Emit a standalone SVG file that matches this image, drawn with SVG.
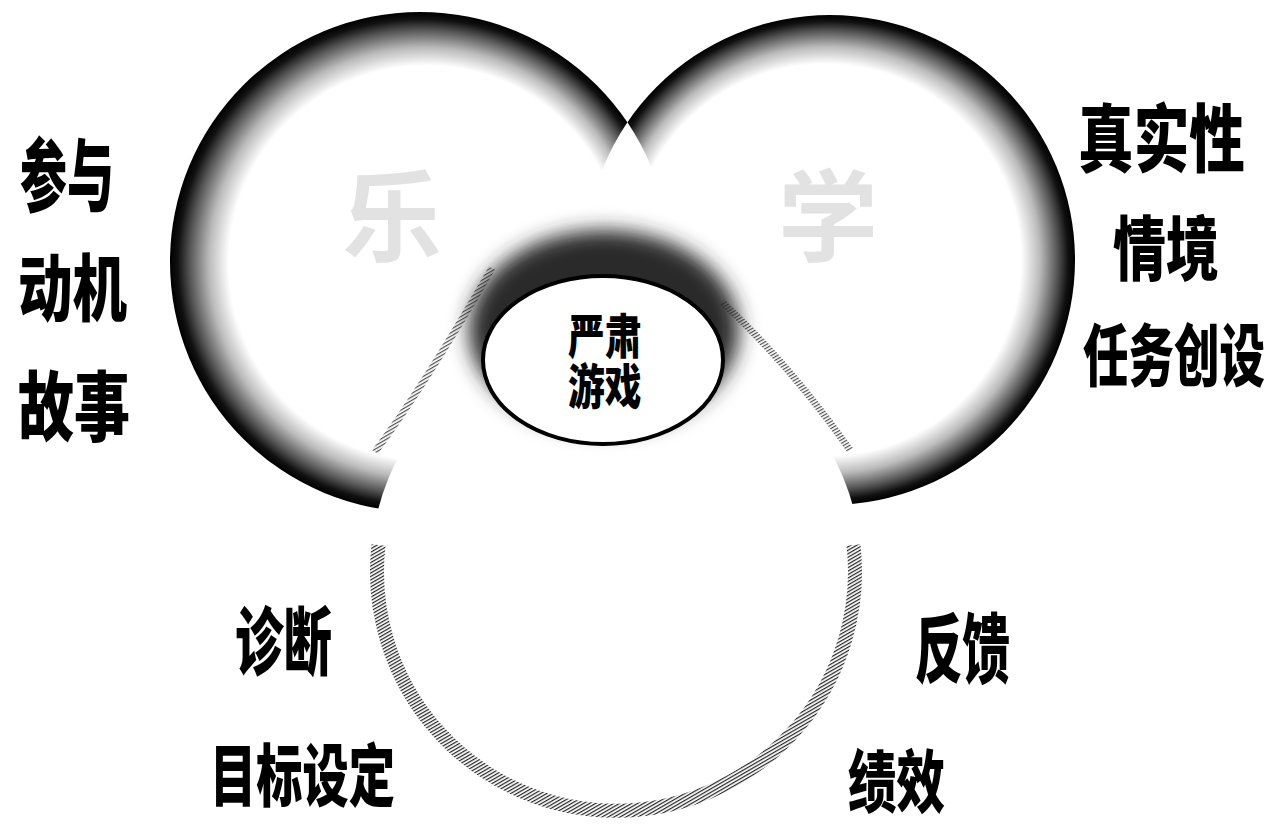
<svg xmlns="http://www.w3.org/2000/svg" width="1270" height="829" viewBox="0 0 1270 829">
<style>
.lbl{font-family:"Noto Sans CJK SC","Noto Sans CJK TC",sans-serif;font-weight:900;fill:#000;dominant-baseline:central}
.faint{font-family:"Noto Sans CJK SC",sans-serif;font-weight:700;fill:#e2e2e2;dominant-baseline:central;text-anchor:middle}
</style>
<defs>
<radialGradient id="rimL" cx="0.5" cy="0.5" r="0.5" fx="0.56" fy="0.51">
<stop offset="0" stop-color="#fff"/>
<stop offset="0.79" stop-color="#fff"/>
<stop offset="0.86" stop-color="#bbb"/>
<stop offset="0.93" stop-color="#555"/>
<stop offset="0.972" stop-color="#111"/>
<stop offset="1" stop-color="#000"/>
</radialGradient>
<radialGradient id="rimR" cx="0.5" cy="0.5" r="0.5" fx="0.45" fy="0.5">
<stop offset="0" stop-color="#fff"/>
<stop offset="0.8" stop-color="#fff"/>
<stop offset="0.87" stop-color="#bbb"/>
<stop offset="0.935" stop-color="#555"/>
<stop offset="0.975" stop-color="#111"/>
<stop offset="1" stop-color="#000"/>
</radialGradient>
<pattern id="hatch" width="3" height="3" patternUnits="userSpaceOnUse" patternTransform="rotate(60)">
<rect width="1.2" height="3" fill="#222"/>
</pattern>
<filter id="blur" x="-30%" y="-30%" width="160%" height="160%">
<feGaussianBlur stdDeviation="10"/>
</filter>
<mask id="mL" maskUnits="userSpaceOnUse" x="0" y="0" width="1270" height="829">
<rect width="1270" height="829" fill="#fff"/>
<circle cx="830" cy="260" r="245" fill="#000"/>
<circle cx="616" cy="572" r="246" fill="#000"/>
</mask>
<mask id="mR" maskUnits="userSpaceOnUse" x="0" y="0" width="1270" height="829">
<rect width="1270" height="829" fill="#fff"/>
<circle cx="420" cy="262" r="250" fill="#000"/>
<circle cx="616" cy="572" r="246" fill="#000"/>
</mask>
</defs>
<rect width="1270" height="829" fill="#fff"/>

<g id="circle-left">
<circle cx="420" cy="262" r="250" fill="url(#rimL)" mask="url(#mL)"/>
<text class="faint" x="392" y="210" font-size="100">乐</text>
</g>

<g id="circle-right">
<circle cx="830" cy="260" r="245" fill="url(#rimR)" mask="url(#mR)"/>
<text class="faint" x="828" y="210" font-size="100">学</text>
</g>

<g id="circle-bottom">
<path d="M 378.5 545 A 239 239 0 1 0 853.5 545" fill="none" stroke="url(#hatch)" stroke-width="14"/>
<path d="M 375 452 Q 425 385 492 268" fill="none" stroke="url(#hatch)" stroke-width="7" opacity="0.8"/>
<path d="M 722 302 Q 790 365 850 450" fill="none" stroke="url(#hatch)" stroke-width="7" opacity="0.8"/>
</g>

<g id="core">
<ellipse cx="604" cy="330" rx="135" ry="100" fill="#2a2a2a" filter="url(#blur)"/>
<ellipse cx="603" cy="360" rx="120" ry="84" fill="#fff" stroke="#000" stroke-width="4"/>
<text class="lbl" transform="translate(568,333) scale(0.8,1.05)" font-size="46"><tspan x="0" y="0">严肃</tspan><tspan x="0" y="47.6">游戏</tspan></text>
</g>

<g id="labels-left">
<text class="lbl" transform="translate(20,170) scale(0.5875,1)" font-size="80">参与</text>
<text class="lbl" transform="translate(18,283) scale(0.747,1)" font-size="73">动机</text>
<text class="lbl" transform="translate(18,402) scale(0.737,1)" font-size="76">故事</text>
</g>

<g id="labels-right">
<text class="lbl" transform="translate(1078,134) scale(0.752,1)" font-size="74">真实性</text>
<text class="lbl" transform="translate(1113,245) scale(0.757,1)" font-size="70">情境</text>
<text class="lbl" transform="translate(1083,352) scale(0.669,1)" font-size="68">任务创设</text>
</g>

<g id="labels-bottom">
<text class="lbl" transform="translate(235,636) scale(0.655,1)" font-size="74">诊断</text>
<text class="lbl" transform="translate(210,772) scale(0.68,1)" font-size="68">目标设定</text>
<text class="lbl" transform="translate(915,643) scale(0.625,1)" font-size="76">反馈</text>
<text class="lbl" transform="translate(848,778) scale(0.713,1)" font-size="68">绩效</text>
</g>

<g id="connectors"/>
</svg>
